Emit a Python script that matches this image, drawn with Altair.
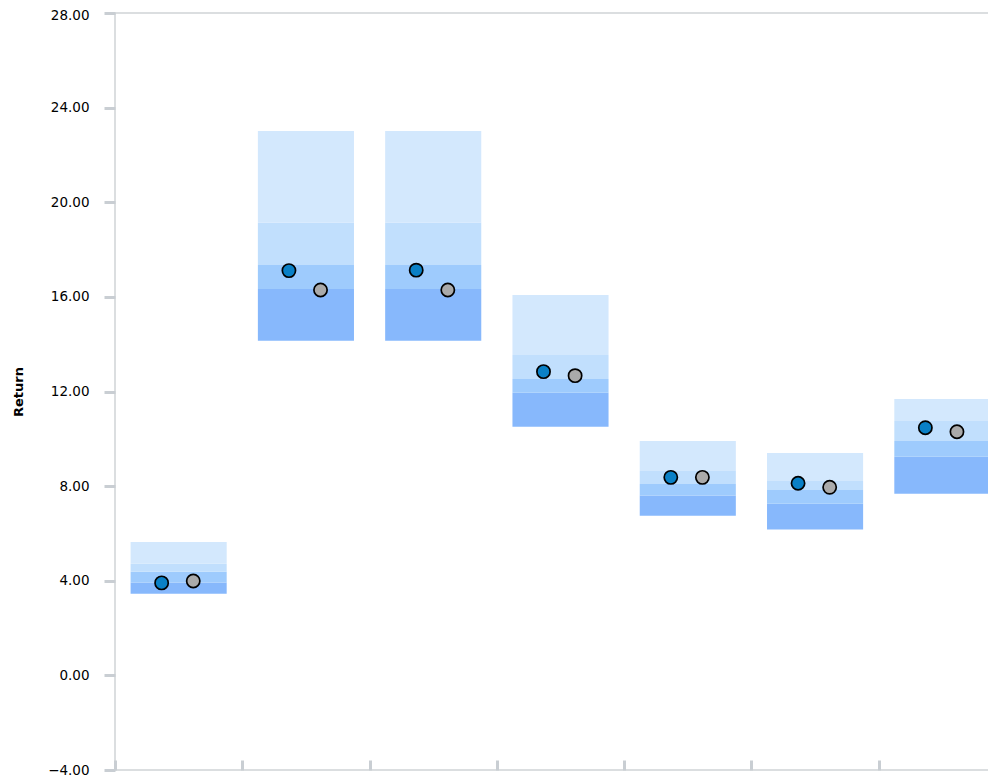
import altair as alt
import pandas as pd

# Categories (x axis has no labels in the reference)
categories = ["Fund 1", "Fund 2", "Fund 3", "Fund 4", "Fund 5", "Fund 6", "Fund 7"]

# Percentile band boundaries (return %)
p5 = [3.45, 14.15, 14.15, 10.51, 6.75, 6.17, 7.68]
p25 = [3.93, 16.33, 16.33, 11.95, 7.60, 7.26, 9.24]
p50 = [4.38, 17.35, 17.35, 12.53, 8.09, 7.84, 9.91]
p75 = [4.72, 19.14, 19.14, 13.54, 8.64, 8.22, 10.75]
p95 = [5.64, 23.01, 23.01, 16.08, 9.91, 9.40, 11.68]

# Point series
portfolio = [3.91, 17.11, 17.13, 12.84, 8.37, 8.12, 10.47]
benchmark = [3.99, 16.29, 16.29, 12.67, 8.37, 7.95, 10.30]

segments = ["5th-25th", "25th-50th", "50th-75th", "75th-95th"]
segment_colors = ["#87b8fc", "#9ecbfd", "#c1dffd", "#d3e8fd"]
y_ticks = [-4, 0, 4, 8, 12, 16, 20, 24, 28]

rows = []
for i, c in enumerate(categories):
    lows = [p5[i], p25[i], p50[i], p75[i]]
    highs = [p25[i], p50[i], p75[i], p95[i]]
    for s, lo, hi in zip(segments, lows, highs):
        rows.append({"category": c, "segment": s, "lo": lo, "hi": hi})
bars_df = pd.DataFrame(rows)
pts_df = pd.DataFrame({"category": categories, "portfolio": portfolio, "benchmark": benchmark})

tick_color = "#c9ced3"
xscale = alt.Scale(domain=categories, paddingInner=0, paddingOuter=0)
yscale = alt.Scale(domain=[-4, 28], nice=False, zero=False)

x_enc = alt.X(
    "category:N", scale=xscale, sort=categories,
    axis=alt.Axis(labels=False, title=None, domain=False, tickBand="extent",
                  tickSize=10, tickWidth=3, tickColor=tick_color, offset=-10),
)
y_axis = alt.Axis(
    values=y_ticks, format=".2f", domain=False, grid=False,
    tickSize=11, tickWidth=3, tickColor=tick_color,
    labelFont="DejaVu Sans", labelFontSize=13.5, labelColor="#000000", labelPadding=15,
    labelOffset={"condition": {"test": "datum.value == 28", "value": 2.5}, "value": 0},
    title="Return", titleFont="DejaVu Sans", titleFontSize=13, titleFontWeight="bold",
    titleColor="#000000", titlePadding=22,
)

bars = alt.Chart(bars_df).mark_bar(width=alt.RelativeBandSize(0.755)).encode(
    x=x_enc,
    y=alt.Y("lo:Q", scale=yscale, axis=y_axis),
    y2="hi:Q",
    color=alt.Color("segment:N", scale=alt.Scale(domain=segments, range=segment_colors), legend=None),
)

pts_port = alt.Chart(pts_df).mark_circle(
    color="#0a80c6", stroke="#000000", strokeWidth=1.7, opacity=1, size=175, xOffset=-17
).encode(x=alt.X("category:N", scale=xscale, sort=categories), y=alt.Y("portfolio:Q", scale=yscale))

pts_bench = alt.Chart(pts_df).mark_circle(
    color="#aaaaaa", stroke="#000000", strokeWidth=1.7, opacity=1, size=175, xOffset=14.6
).encode(x=alt.X("category:N", scale=xscale, sort=categories), y=alt.Y("benchmark:Q", scale=yscale))

chart = alt.layer(bars, pts_port, pts_bench).properties(
    width=891, height=757,
    autosize=alt.AutoSizeParams(type="none"),
    padding={"left": 107, "top": 5, "right": -18, "bottom": 13},
).configure_view(stroke="#cfd3d6", strokeWidth=1.5)

chart.save("out.html", embed_options={"renderer": "svg", "actions": False})
